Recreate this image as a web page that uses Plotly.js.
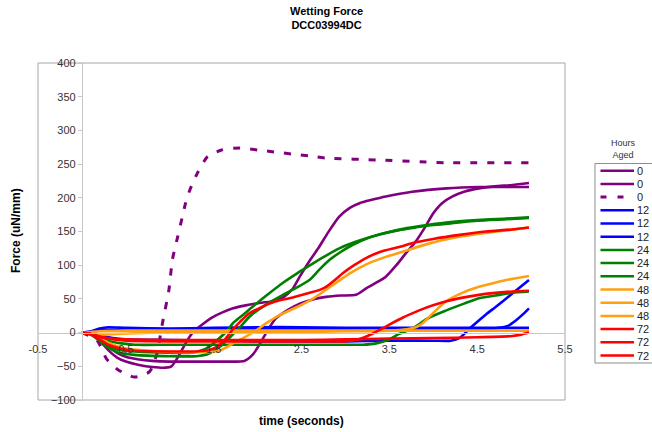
<!DOCTYPE html>
<html>
<head>
<meta charset="utf-8">
<script src="https://cdn.plot.ly/plotly-3.0.1.min.js"></script>
<style>html,body{margin:0;padding:0;background:#fff;}#chart{width:652px;height:432px;}</style>
</head>
<body>
<div id="chart"></div>
<script>
// ---------- data ----------
const seriesNames = ['0', '0', '0', '12', '12', '12', '24', '24', '24', '48', '48', '48', '72', '72', '72'];

const h0aX = [0, 0.1, 0.2, 0.3, 0.4, 0.5, 0.65, 0.8, 0.95, 1.02, 1.1, 1.18, 1.26, 1.37, 1.49, 1.6, 1.72, 1.85, 2.02, 2.2, 2.3, 2.4, 2.48, 2.6, 2.7, 2.8, 2.93, 3.05, 3.16, 3.3, 3.46, 3.76, 4.15, 4.52, 5.09];
const h0aY = [0, -3, -12, -26, -37, -43, -48, -51, -52, -50, -35, -16, 0, 12, 23, 30, 36, 40, 44, 47, 53, 65, 83, 108, 127, 148, 172, 185, 192, 197, 202, 209, 214, 216, 216];

const h0bX = [0, 0.1, 0.2, 0.3, 0.4, 0.5, 0.65, 0.8, 1.0, 1.3, 1.6, 1.85, 1.95, 2.02, 2.1, 2.2, 2.35, 2.48, 2.65, 2.78, 2.95, 3.12, 3.24, 3.35, 3.46, 3.58, 3.69, 3.8, 3.9, 4.0, 4.1, 4.22, 4.35, 4.52, 4.7, 4.9, 5.09];
const h0bY = [0, -2, -8, -20, -30, -36, -40, -42, -43, -43, -43, -42, -32, -18, 0, 20, 34, 43, 50, 53, 55, 56, 66, 74, 83, 100, 118, 135, 155, 177, 192, 202, 209, 214, 217, 219, 222];

const h0cX = [0, 0.17, 0.28, 0.41, 0.6, 0.77, 0.85, 0.92, 0.99, 1.03, 1.09, 1.14, 1.18, 1.23, 1.32, 1.43, 1.59, 1.8, 2.0, 2.19, 2.39, 2.59, 2.78, 3.39, 3.92, 4.15, 5.09];
const h0cY = [0, -11, -39, -55, -66, -58, -33, 16, 63, 108, 142, 170, 192, 212, 238, 261, 271, 274, 271, 268, 265, 262, 259, 256, 253, 252, 252];

const h12aX = [0, 0.1, 0.2, 0.3, 0.5, 1.0, 1.5, 2.0, 2.5, 3.0, 3.5, 4.0, 4.5, 5.09];
const h12aY = [0, 2, 6, 8, 7, 6, 7, 8, 8, 7, 7, 7, 7, 7];

const h12bX = [0, 0.1, 0.2, 0.3, 0.5, 1.0, 1.5, 2.0, 2.5, 3.0, 3.5, 4.0, 4.5, 4.75, 4.85, 4.94, 5.02, 5.09];
const h12bY = [0, 1, 3, 4, 4, 4, 5, 5, 5, 5, 5, 5, 5, 7, 10, 18, 27, 36];

const h12cX = [0, 0.1, 0.2, 0.35, 0.5, 1.0, 1.5, 2.0, 2.5, 3.0, 3.5, 4.0, 4.2, 4.3, 4.44, 4.6, 4.71, 4.9, 5.09];
const h12cY = [0, 0, -4, -8, -10, -11, -12, -13, -13, -13, -12, -12, -12, -8, 9, 27, 38, 58, 78];

const h24aX = [0, 0.1, 0.2, 0.3, 0.4, 0.6, 1.0, 1.25, 1.35, 1.45, 1.55, 1.65, 1.72, 1.85, 1.94, 2.1, 2.29, 2.45, 2.6, 2.75, 2.93, 3.1, 3.24, 3.4, 3.61, 3.8, 3.95, 4.2, 4.5, 4.8, 5.09];
const h24aY = [0, -2, -10, -20, -25, -28, -30, -30, -27, -21, -10, 2, 14, 28, 38, 55, 74, 88, 100, 112, 125, 134, 140, 146, 152, 156, 159, 162, 166, 168, 170];

const h24bX = [0, 0.1, 0.2, 0.3, 0.4, 0.6, 1.0, 1.3, 1.45, 1.57, 1.7, 1.8, 1.91, 2.1, 2.29, 2.45, 2.59, 2.7, 2.82, 2.95, 3.08, 3.25, 3.46, 3.7, 3.95, 4.2, 4.5, 4.8, 5.09];
const h24bY = [0, -2, -12, -22, -29, -33, -35, -35, -31, -21, -5, 8, 24, 42, 56, 67, 78, 93, 108, 120, 130, 140, 148, 155, 160, 164, 167, 169, 171];

const h24cX = [0, 0.1, 0.2, 0.3, 0.45, 0.6, 1.0, 1.5, 2.0, 2.5, 3.0, 3.2, 3.35, 3.5, 3.61, 3.76, 3.95, 4.15, 4.35, 4.52, 4.75, 4.9, 5.09];
const h24cY = [0, -1, -6, -12, -16, -18, -18, -18, -18, -18, -18, -18, -16, -10, -2, 6, 22, 33, 43, 51, 56, 59, 61];

const h48aX = [0, 0.1, 0.2, 0.3, 0.45, 0.6, 0.9, 1.2, 1.45, 1.58, 1.72, 1.85, 1.97, 2.1, 2.25, 2.45, 2.65, 2.85, 3.05, 3.25, 3.45, 3.65, 3.95, 4.25, 4.55, 4.85, 5.09];
const h48aY = [0, -2, -8, -15, -22, -25, -28, -29, -29, -26, -16, -7, 2, 14, 26, 38, 52, 70, 88, 102, 112, 120, 132, 141, 147, 152, 156];

const h48bX = [0, 0.1, 0.2, 0.4, 0.8, 1.5, 2.5, 3.0, 3.5, 3.7, 3.8, 3.88, 3.95, 4.03, 4.14, 4.33, 4.52, 4.7, 4.83, 5.09];
const h48bY = [0, -1, -3, -2, 0, 1, 1, 2, 3, 5, 8, 14, 23, 33, 46, 59, 68, 74, 78, 84];

const h48cX = [0, 0.1, 0.2, 0.5, 1.0, 2.0, 3.0, 4.0, 5.09];
const h48cY = [0, 1, 2, 3, 3, 3, 3, 3, 3];

const h72aX = [0, 0.1, 0.2, 0.3, 0.45, 0.6, 1.0, 1.3, 1.45, 1.55, 1.63, 1.72, 1.8, 1.9, 2.05, 2.2, 2.4, 2.59, 2.7, 2.78, 2.88, 2.97, 3.1, 3.24, 3.4, 3.61, 3.8, 4.0, 4.3, 4.6, 4.9, 5.09];
const h72aY = [0, -2, -10, -18, -24, -27, -28, -28, -26, -20, -10, 5, 16, 28, 38, 46, 52, 59, 63, 68, 78, 88, 100, 111, 120, 127, 134, 139, 145, 150, 153, 156];

const h72bX = [0, 0.1, 0.2, 0.35, 0.5, 1.0, 2.0, 2.8, 3.0, 3.15, 3.3, 3.46, 3.65, 3.84, 4.14, 4.52, 4.9, 5.09];
const h72bY = [0, -2, -6, -10, -12, -13, -13, -13, -13, -10, -2, 9, 22, 33, 46, 56, 61, 62];

const h72cX = [0, 0.1, 0.2, 0.35, 0.5, 1.0, 1.5, 2.0, 2.5, 3.0, 3.5, 4.0, 4.5, 4.9, 5.0, 5.09];
const h72cY = [0, -2, -6, -9, -10, -11, -11, -11, -11, -10, -9, -8, -7, -5, -3, 0];

const xTickVals = [-0.5, 0.5, 1.5, 2.5, 3.5, 4.5, 5.5];
const xTickText = ['-0.5', '0.5', '1.5', '2.5', '3.5', '4.5', '5.5'];
const yTickVals = [-100, -50, 0, 50, 100, 150, 200, 250, 300, 350, 400];

// ---------- styling ----------
const PURPLE = '#800080', BLUE = '#0000FF', GREEN = '#008000', ORANGE = '#FFA010', RED = '#FF0000';
const xs = [h0aX, h0bX, h0cX, h12aX, h12bX, h12cX, h24aX, h24bX, h24cX, h48aX, h48bX, h48cX, h72aX, h72bX, h72cX];
const ys = [h0aY, h0bY, h0cY, h12aY, h12bY, h12cY, h24aY, h24bY, h24cY, h48aY, h48bY, h48cY, h72aY, h72bY, h72cY];
const colors = [PURPLE, PURPLE, PURPLE, BLUE, BLUE, BLUE, GREEN, GREEN, GREEN, ORANGE, ORANGE, ORANGE, RED, RED, RED];
const dashes = ['solid', 'solid', '7px,10px', 'solid', 'solid', 'solid', 'solid', 'solid', 'solid', 'solid', 'solid', 'solid', 'solid', 'solid', 'solid'];

const FONT = 'Arial, "Liberation Sans", sans-serif';
const W = 652, H = 432;
const PL = 38, PR = 565, PT = 63, PB = 400; // plot area in pixels
const X_MIN = -0.5, X_MAX = 5.5, Y_MIN = -100, Y_MAX = 400;
const px2x = p => (p - PL) / (PR - PL);
const py2y = p => (PB - p) / (PB - PT);

const traces = xs.map((x, i) => ({
  type: 'scatter', mode: 'lines', name: seriesNames[i],
  x: x, y: ys[i],
  line: { color: colors[i], width: dashes[i] === 'solid' ? 2.6 : 3, dash: dashes[i], shape: 'spline', smoothing: 0.6 },
  showlegend: false, hoverinfo: 'skip'
}));

// Legend drawn in the Excel style (compact rows)
const shapes = [
  { type: 'rect', xref: 'paper', yref: 'paper', x0: 0, x1: 1, y0: 0, y1: 1,
    line: { color: '#a6a6a6', width: 1 }, fillcolor: 'rgba(0,0,0,0)', layer: 'below' },
  { type: 'rect', xref: 'paper', yref: 'paper', x0: px2x(595), x1: px2x(670), y0: py2y(363), y1: py2y(163.5),
    line: { color: '#8c8c8c', width: 1 }, fillcolor: 'rgba(0,0,0,0)' }
];
const annotations = [
  { xref: 'paper', yref: 'paper', x: px2x(326), y: py2y(18), text: '<b>Wetting Force</b><br><b>DCC03994DC</b>', showarrow: false,
    font: { family: FONT, size: 11, color: '#000' }, xanchor: 'center', yanchor: 'middle' },
  { xref: 'paper', yref: 'paper', x: px2x(623), y: py2y(149), text: 'Hours<br>Aged', showarrow: false,
    font: { family: FONT, size: 9, color: '#333' }, xanchor: 'center', yanchor: 'middle' },
  { xref: 'paper', yref: 'paper', x: (px2x(PL) + px2x(PR)) / 2, y: py2y(421), text: '<b>time (seconds)</b>', showarrow: false,
    font: { family: FONT, size: 12, color: '#000' }, xanchor: 'center', yanchor: 'middle' },
  { xref: 'paper', yref: 'paper', x: px2x(16), y: py2y(231), text: '<b>Force (uN/mm)</b>', textangle: -90, showarrow: false,
    font: { family: FONT, size: 12, color: '#000' }, xanchor: 'center', yanchor: 'middle' }
];
seriesNames.forEach((nm, i) => {
  const yy = py2y(170.7 + i * 13.2);
  shapes.push({ type: 'line', xref: 'paper', yref: 'paper', x0: px2x(600.5), x1: px2x(634), y0: yy, y1: yy,
    line: { color: colors[i], width: dashes[i] === 'solid' ? 2.5 : 3, dash: dashes[i] === 'solid' ? 'solid' : '6px,11px' } });
  annotations.push({ xref: 'paper', yref: 'paper', x: px2x(635), y: yy, text: nm, showarrow: false,
    xanchor: 'left', yanchor: 'middle', font: { family: FONT, size: 11, color: '#222' } });
});

const layout = {
  width: W, height: H,
  margin: { l: PL, r: W - PR, t: PT, b: H - PB, pad: 0 },
  paper_bgcolor: '#fff', plot_bgcolor: '#fff',
  font: { family: FONT, size: 11, color: '#333' },
  xaxis: {
    range: [X_MIN, X_MAX], anchor: 'free', position: (0 - Y_MIN) / (Y_MAX - Y_MIN),
    tickmode: 'array', tickvals: xTickVals, ticktext: xTickText,
    showgrid: false, zeroline: false, showline: true, linecolor: '#c8c8c8', linewidth: 1,
    ticks: '', ticklabelstandoff: 6, tickfont: { family: FONT, size: 11, color: '#333' }, fixedrange: true
  },
  yaxis: {
    range: [Y_MIN, Y_MAX], anchor: 'free', position: (0 - X_MIN) / (X_MAX - X_MIN),
    tickmode: 'array', tickvals: yTickVals,
    showgrid: false, zeroline: false, showline: true, linecolor: '#c8c8c8', linewidth: 1,
    ticks: 'outside', ticklen: 4, tickcolor: '#c8c8c8', tickfont: { family: FONT, size: 11, color: '#333' }, fixedrange: true
  },
  showlegend: false,
  shapes: shapes,
  annotations: annotations
};

Plotly.newPlot('chart', traces, layout, { displayModeBar: false, staticPlot: true });
</script>
</body>
</html>
